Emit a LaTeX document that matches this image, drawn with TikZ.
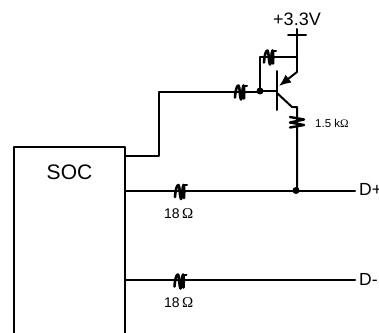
\documentclass[tikz,border=0pt]{standalone}
\usepackage{fontspec}
\setmainfont{Liberation Sans}
\newfontfamily\omegafont{Liberation Serif}
\usetikzlibrary{arrows.meta}
\tikzset{
  wire/.style={line width=2pt,line cap=round,line join=round},
  solder/.style={circle,fill=black,inner sep=0pt,minimum size=7pt},
  lbl/.style={inner sep=0pt,anchor=west},
  hsquig/.pic={\draw[line width=2.6pt,line cap=round,line join=round] (-6,5) .. controls (-5.5,-3) and (-4,-7) .. (-2.5,-7) .. controls (-1,-6) and (-1.5,5) .. (0,7) .. controls (1.5,6) and (1,-5) .. (2.5,-7) .. controls (3,-7) and (3.5,-2) .. (3,6);
    \draw[line width=2pt,line cap=round] (2.5,-7) -- (6,-7);},
  vsquig/.pic={\draw[line width=2.4pt,line cap=round,line join=round] (-7,-5) -- (7,-2.5) -- (-7,0.5) -- (7,3) -- (-7,5.5);}
}
\begin{document}
\begin{tikzpicture}[x=1pt,y=-1pt]
\useasboundingbox (0,0) rectangle (379,332);
\clip (0,0) rectangle (379,332);
\coordinate (boxtl) at (14,147);
\coordinate (boxtr) at (125,147);
\coordinate (boxbl) at (14,334);
\coordinate (boxbr) at (125,334);
\coordinate (socout) at (125,156);
\coordinate (bend1) at (159,156);
\coordinate (bend2) at (159,92);
\coordinate (dpl) at (125,191);
\coordinate (dmL) at (125,280);
\coordinate (dpr) at (355,191);
\coordinate (dmr) at (355,280);
\coordinate (capl) at (288,35);
\coordinate (capr) at (306,35);
\coordinate (rail) at (297,29);
\coordinate (bartop) at (277,71);
\coordinate (barbot) at (277,110);
\coordinate (basejoin) at (277,91);
\coordinate (fbl) at (260,57);
\coordinate (fbr) at (297,57);
\coordinate (emk) at (297,72);
\coordinate (emtip) at (279,86);
\coordinate (colA) at (277,93);
\coordinate (colB) at (292,107);
\coordinate (colC) at (297,107);
\node[solder] (bnode) at (260,91) {};
\node[solder] (dnode) at (296,190.5) {};
\node[inner sep=0pt] (soc) at (69.5,172) {\fontsize{21}{21}\selectfont SOC};
\node[inner sep=0pt] (vcc) at (297,19.5) {\fontsize{18}{18}\selectfont +3.3V};
\node[lbl] (dp) at (359,189.5) {\fontsize{17.5}{17.5}\selectfont D+};
\node[lbl] (dm) at (359,279) {\fontsize{17.5}{17.5}\selectfont D-};
\node[lbl] (r1) at (164,214) {\fontsize{14}{14}\selectfont 18\,{\omegafont\fontsize{15}{15}\selectfont Ω}};
\node[lbl] (r2) at (164,302.5) {\fontsize{14}{14}\selectfont 18\,{\omegafont\fontsize{15}{15}\selectfont Ω}};
\node[lbl] (r3) at (315,123.5) {\fontsize{11.5}{11.5}\selectfont 1.5 k{\omegafont Ω}};
\draw[wire] (boxbl) -- (boxtl) -- (boxtr) -- (boxbr);
\draw[wire] (socout) -- (bend1) -- (bend2) -- (bend2 -| bnode.center) -- (bnode.center);
\draw[wire] (bnode.center) -- (basejoin);
\draw[wire] (bartop) -- (barbot);
\draw[wire] (bnode.center) -- (fbl) -- (fbr);
\draw[wire] (capl) -- (capr);
\draw[wire] (rail) -- (emk);
\draw[wire,-{Latex[length=12pt,width=10pt]}] (emk) -- (emtip);
\draw[wire] (colA) -- (colB) -- (colC) -- (colC |- dnode.center);
\draw[wire] (dpl) -- (dpr);
\draw[wire] (dmL) -- (dmr);
\pic at (241,92.5) {hsquig};
\pic at (270,57.5) {hsquig};
\pic at (181,192) {hsquig};
\pic at (180.5,281.5) {hsquig};
\pic at (297,122) {vsquig};
\end{tikzpicture}
\end{document}
